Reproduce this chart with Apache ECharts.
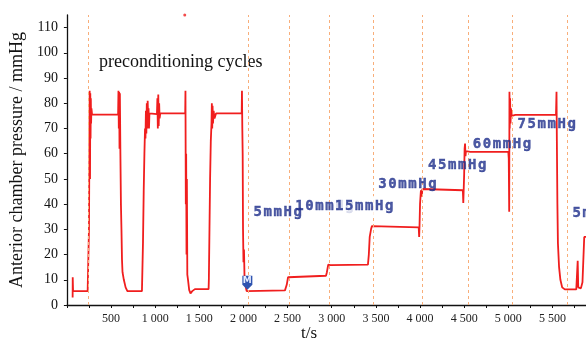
<!DOCTYPE html>
<html>
<head>
<meta charset="utf-8">
<script src="https://cdn.jsdelivr.net/npm/echarts@6/dist/echarts.min.js"></script>
<style>html,body{margin:0;padding:0;background:#fff}#c{width:586px;height:345px}</style>
</head>
<body>
<div id="c"></div>
<script>
// time (s) and anterior chamber pressure (mmHg)
const timeS = [
  65, 66, 68, 70, 235, 240, 250, 256, 258, 262, 265, 268, 271, 274, 278, 285,
  580, 584, 588, 592, 596, 600, 606, 612, 618, 624, 630, 645, 665, 685,
  850, 855, 862, 870, 878, 885, 890, 895, 900, 905, 910, 915, 920, 925, 930, 935, 945,
  1020, 1025, 1030, 1035, 1040, 1045, 1050, 1058,
  1340, 1343, 1347, 1351, 1355, 1359, 1364, 1372, 1385, 1400, 1420, 1450,
  1605, 1608, 1615, 1622, 1630, 1638, 1642, 1646, 1650, 1655, 1662, 1672, 1690,
  1980, 1983, 1987, 1991, 1995, 2000, 2006, 2012, 2020, 2036, 2045, 2055,
  2470, 2490, 2505, 2515, 2935, 2945, 2960, 2975, 2985, 2995, 3005,
  3410, 3420, 3430, 3445, 3455, 3470, 3985, 3990, 3994, 4000, 4010, 4020, 4026, 4035,
  4485, 4490, 4494, 4500, 4505, 4510, 4515, 4520, 4570,
  5000, 5005, 5010, 5013, 5016, 5020, 5025, 5030, 5040, 5080,
  5540, 5546, 5550, 5556, 5562, 5575, 5590, 5610, 5640,
  5770, 5786, 5792, 5822, 5840, 5860, 5880
];
const pressure = [
  3, 11, 8, 5.5, 5.5, 6, 30, 70, 85, 50, 84, 66, 82, 72, 78, 75.5,
  75.5, 85, 70, 84.5, 62, 84, 60, 40, 30, 18, 13, 10, 7, 5.5,
  5.5, 6, 25, 45, 60, 70, 66, 77, 68, 80, 70, 81, 74, 78, 70, 76, 75.7,
  75.7, 82, 70, 83.5, 71, 80, 74, 76,
  76, 85, 40, 60, 20, 50, 12, 10, 6, 4.6, 5.5, 6.3,
  6.3, 10, 30, 50, 65, 72, 80, 70, 79, 72, 77, 74, 76,
  76, 85, 70, 60, 30, 17, 22, 11, 8, 5.5, 5.3, 5.8,
  5.8, 8, 11, 11.6, 11.6, 13, 16, 16.5, 15.8, 16.3, 16,
  16, 20, 27, 30, 31.3, 30.8, 30.8, 27, 31, 40, 45.5, 43, 46, 45.5,
  45.5, 40.5, 45, 52, 62, 64, 59, 61, 60.7,
  60.7, 58, 37, 84.6, 70, 82, 72, 78, 75, 75.4,
  75.4, 84.6, 65, 40, 24.5, 15, 10, 7, 6.2,
  6.2, 17.5, 7, 6.6, 9, 27, 27
];
const eventTimes = [240, 2055, 2524, 2967, 3474, 4026, 4545, 5045, 5662];
const labelTexts = ['5mmHg', '10mmHg', '15mmHg', '30mmHg', '45mmHg', '60mmHg', '75mmHg', '5mmHg'];
const labelTimes = [2105, 2577, 3027, 3519, 4082, 4589, 5096, 5718];
const labelPress = [36.6, 39.3, 39.3, 48, 55.3, 63.9, 71.7, 36.5];
const markerPoint = [2044, 6];
const strayPoint = [1335, 115];

const chart = echarts.init(document.getElementById('c'), null, {renderer: 'canvas'});
const lineData = timeS.map((t, i) => [t, pressure[i]]);
const spaced = s => s.split('').map(ch => '{c|' + ch + '}').join('');
const labelData = labelTexts.map((s, i) => ({
  value: [labelTimes[i], labelPress[i]],
  label: s === '15mmHg'
    ? {formatter: spaced(s), backgroundColor: '#fff', padding: [3, 0, 3, 0]}
    : {formatter: spaced(s)}
}));
const fmtX = v => {
  if (v <= 0 || v % 500 !== 0) return '';
  if (v >= 1000) { const r = v % 1000; return Math.floor(v / 1000) + ' ' + String(r).padStart(3, '0'); }
  return String(v);
};
chart.setOption({
  animation: false,
  backgroundColor: '#fff',
  grid: {left: 64, right: 0, top: 15, bottom: 40},
  xAxis: {
    type: 'value', min: 0, max: 5880, interval: 250,
    splitLine: {show: false},
    axisLine: {lineStyle: {color: '#111', width: 1.3}},
    axisTick: {show: true, length: 3, lineStyle: {color: '#111'}},
    axisLabel: {formatter: fmtX, color: '#222', fontFamily: 'Liberation Serif', fontSize: 12, margin: 8, showMaxLabel: false}
  },
  yAxis: {
    type: 'value', min: 0, max: 115, interval: 10,
    splitLine: {show: false},
    axisLine: {show: true, lineStyle: {color: '#111', width: 1.3}},
    axisTick: {show: true, length: 3, lineStyle: {color: '#111'}},
    axisLabel: {formatter: v => (v % 10 === 0 ? String(v) : ''), color: '#111', fontFamily: 'Liberation Serif', fontSize: 14, margin: 9, showMaxLabel: false},
    name: 'Anterior chamber pressure / mmHg',
    nameLocation: 'middle', nameGap: 40, nameRotate: 90,
    nameTextStyle: {fontFamily: 'Liberation Serif', fontSize: 18, color: '#111'}
  },
  graphic: [
    {type: 'text', left: 99, top: 53, style: {text: 'preconditioning cycles', font: '18px "Liberation Serif"', fill: '#111'}},
    {type: 'text', left: 301, top: 325, style: {text: 't/s', font: '17px "Liberation Serif"', fill: '#111'}}
  ],
  series: [
    {
      type: 'line', data: lineData, showSymbol: false, symbol: 'none', sampling: false,
      lineStyle: {color: '#f01e1e', width: 1.8},
      z: 3,
      markLine: {
        silent: true, symbol: ['none', 'none'], animation: false,
        label: {show: false},
        lineStyle: {color: '#f8ae7a', type: [3, 3], width: 1},
        data: eventTimes.map(t => ({xAxis: t}))
      },
      markPoint: {
        silent: true, animation: false,
        data: [{
          coord: markerPoint,
          symbol: 'path://M0,0 L10,0 L10,9 L5,14 L0,9 Z',
          symbolSize: [10, 14], symbolOffset: [0, '-50%'],
          itemStyle: {color: '#2f54b0'},
          label: {show: true, formatter: 'M', color: '#e8eeff', fontSize: 9, fontWeight: 'bold', fontFamily: 'DejaVu Sans', offset: [0, -2]}
        }]
      }
    },
    {
      type: 'scatter', data: labelData, symbolSize: 0, silent: true, z: 5,
      label: {
        show: true, position: 'right', distance: 0, padding: 0,
        rich: {c: {width: 10, align: 'center', fontFamily: 'DejaVu Sans Mono', fontWeight: 'bold', fontSize: 14, color: '#1f2f8c', textBorderColor: '#1f2f8c', textBorderWidth: 0.4}}
      }
    },
    {
      type: 'scatter', data: [strayPoint], symbolSize: 3, silent: true,
      itemStyle: {color: '#f01e1e'}
    }
  ]
});
</script>
</body>
</html>
